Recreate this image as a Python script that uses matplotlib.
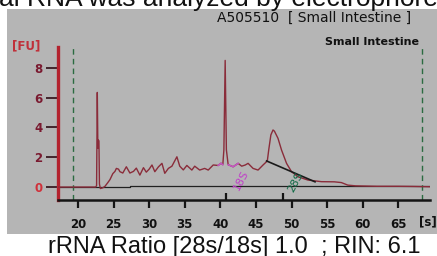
import matplotlib
matplotlib.use("Agg")
import matplotlib.pyplot as plt
from matplotlib.patches import Rectangle

# ---------------- data ----------------
time_s = [17.3, 22.5, 22.62, 22.72, 22.8, 22.86, 22.95, 23.02, 23.15, 23.5, 23.8,
          24.2, 24.5, 24.9, 25.2, 25.4, 25.7, 25.9, 26.3, 26.8, 27.3, 27.8, 28.2,
          28.7, 29.2, 29.6, 30.0, 30.4, 30.8, 31.3, 31.8, 32.2, 32.7, 33.2, 33.9,
          34.3, 34.8, 35.3, 36.0, 36.4, 37.1, 37.8, 38.3, 39.0, 39.7, 40.1, 40.35,
          40.5, 40.68, 40.85, 41.1, 41.8, 42.5, 43.0, 43.5, 43.9, 44.6,
          45.3, 46.0, 46.6, 46.8, 47.1, 47.4, 47.6, 48.1, 48.6, 49.3, 50.0, 50.9,
          52.3, 54.2, 56.0, 57.0, 57.9, 59.0, 62.0, 65.0, 67.0, 69.4]
fluor_fu = [0.0, 0.0, 0.1, 6.35, 2.6, 3.15, 3.1, 0.2, -0.1, -0.05, 0.05,
            0.3, 0.5, 0.9, 1.05, 1.25, 1.2, 1.03, 0.94, 1.36, 0.94, 1.05, 1.27,
            0.8, 1.3, 1.0, 1.2, 1.48, 1.03, 1.35, 1.59, 0.92, 1.25, 1.4, 2.03,
            1.4, 1.15, 1.45, 1.14, 1.4, 1.14, 1.25, 1.14, 1.48, 1.45, 1.6, 1.5,
            2.5, 8.5, 2.5, 1.5, 1.36, 1.59, 1.4, 1.48, 1.59, 1.25,
            1.14, 1.48, 1.75, 2.5, 3.5, 3.83, 3.75, 3.27, 2.48, 1.59, 1.03, 0.69,
            0.47, 0.36, 0.35, 0.3, 0.13, 0.08, 0.05, 0.05, 0.04, 0.02]

peak18_left = (39.6, 40.35)
peak18_right = (41.1, 42.5)
baseline_x = [17.2, 27.3, 27.3, 69.4]
baseline_y = [0.0, 0.0, 0.07, 0.07]
int28_x = [46.5, 53.3]
int28_y = [1.75, 0.35]
peak_markers = [40.85, 48.75]
marker_lines = [19.3, 68.3]

xticks = [20, 25, 30, 35, 40, 45, 50, 55, 60, 65]
yticks = [0, 2, 4, 6, 8]

title_txt = "A505510  [ Small Intestine ]"
sample_txt = "Small Intestine"
top_txt = "al RNA was analyzed by electrophoresis"
bottom_txt = "rRNA Ratio [28s/18s] 1.0  ; RIN: 6.1"

# ---------------- figure ----------------
W, H = 437, 256
fig = plt.figure(figsize=(W / 100, H / 100), dpi=100)
fig.patch.set_facecolor("white")

def fx(px):
    return px / W

def fy(py):
    return 1 - py / H

bg = Rectangle((fx(7), fy(234)), fx(437 - 7), (234 - 9) / H,
               transform=fig.transFigure, facecolor="#b5b5b5",
               edgecolor="none", zorder=-5)
fig.patches.append(bg)

ax = fig.add_axes([fx(58), fy(200), fx(372), 153 / H])
ax.set_zorder(2)
ax.patch.set_visible(False)
ax.set_xlim(17.2, 69.45)
ax.set_ylim(-0.87, 9.4)

for s in ("top", "right"):
    ax.spines[s].set_visible(False)
ax.spines["left"].set_color("#b3222e")
ax.spines["left"].set_linewidth(2.4)
ax.spines["bottom"].set_color("#151515")
ax.spines["bottom"].set_linewidth(1.8)

# baseline and markers
ax.plot(baseline_x, baseline_y, color="#202020", lw=0.9, zorder=2)
for mx in marker_lines:
    ax.axvline(mx, color="#2b6b40", lw=1.0, ls=(0, (4, 3)), zorder=2)
ax.vlines(peak_markers, -0.87, -0.42, color="#151515", lw=1.6, zorder=3)

# trace
ax.plot(time_s, fluor_fu, color="#8a2c3a", lw=1.0, zorder=4)
for lo, hi in (peak18_left, peak18_right):
    sx = [t for t in time_s if lo <= t <= hi]
    sy = [f for t, f in zip(time_s, fluor_fu) if lo <= t <= hi]
    ax.plot(sx, sy, color="#c455c4", lw=1.1, zorder=5)
ax.plot(int28_x, int28_y, color="#1a1a1a", lw=1.2, zorder=5)

ax.text(42.9, 0.45, "18S", color="#c040c8", fontsize=8, rotation=62,
        ha="center", va="center", zorder=6)
ax.text(50.6, 0.33, "28S", color="#0f6a45", fontsize=8, rotation=62,
        ha="center", va="center", zorder=6)

# ticks
ax.set_xticks(xticks)
ax.set_xticklabels([str(v) for v in xticks])
ax.set_yticks(yticks)
ax.set_yticklabels([str(v) for v in yticks])
ax.tick_params(axis="x", direction="out", length=6, width=1.6, color="#151515",
               pad=7, labelsize=8.5, labelcolor="#111111")
ax.tick_params(axis="y", direction="out", length=9, width=1.3, color="#3a1a22",
               pad=2, labelsize=8.5)
for lab in ax.get_xticklabels():
    lab.set_fontweight("bold")
for lab, v in zip(ax.get_yticklabels(), yticks):
    lab.set_fontweight("bold")
    lab.set_color("#d0303a" if v == 0 else "#7a1a30")
ax.get_yticklines()[0].set_color("#c0303a")

# texts
fig.text(fx(428), fy(221.5), "[s]", fontsize=8.5, fontweight="bold",
         color="#111111", ha="center", va="center")
fig.text(fx(12), fy(46), "[FU]", fontsize=8.5, fontweight="bold",
         color="#c0303a", ha="left", va="center")
fig.text(fx(314), fy(18), title_txt, fontsize=10, color="#111111",
         ha="center", va="center")
fig.text(fx(419), fy(42), sample_txt, fontsize=8, fontweight="bold",
         color="#111111", ha="right", va="center")
fig.text(fx(-1), fy(6), top_txt, fontsize=19, family="Liberation Sans",
         color="#111111", ha="left", va="baseline")
fig.text(fx(234), fy(252.5), bottom_txt, fontsize=17, family="Liberation Sans",
         color="#111111", ha="center", va="baseline")

fig.savefig("out.png", dpi=100, facecolor="white")
